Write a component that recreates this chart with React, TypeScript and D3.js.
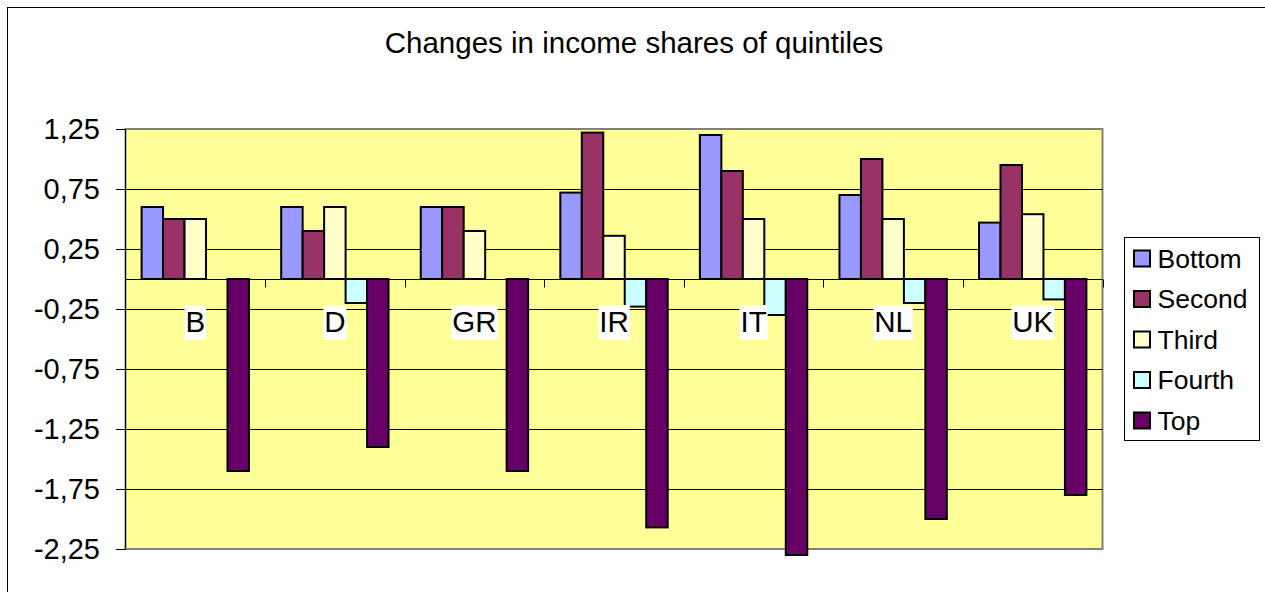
import * as d3 from "d3";
import { useEffect, useRef } from "react";

const countries = ["B", "D", "GR", "IR", "IT", "NL", "UK"];
const quintiles = ["Bottom", "Second", "Third", "Fourth", "Top"];

const bottomShares = [0.6, 0.6, 0.6, 0.72, 1.2, 0.7, 0.47];
const secondShares = [0.5, 0.4, 0.6, 1.22, 0.9, 1.0, 0.95];
const thirdShares = [0.5, 0.6, 0.4, 0.36, 0.5, 0.5, 0.54];
const fourthShares = [0, -0.2, 0, -0.23, -0.3, -0.2, -0.17];
const topShares = [-1.6, -1.4, -1.6, -2.07, -2.3, -2.0, -1.8];

const yTicks = [1.25, 0.75, 0.25, -0.25, -0.75, -1.25, -1.75, -2.25];
const colors = ["#9999ff", "#993366", "#ffffcc", "#ccffff", "#660066"];

const FONT = "'Liberation Sans', Arial, Helvetica, sans-serif";

type Bar = { country: string; quintile: string; value: number; color: string };

export default function App() {
  const svgRef = useRef<SVGSVGElement | null>(null);

  useEffect(() => {
    if (!svgRef.current) return;
    const svg = d3.select(svgRef.current);
    svg.selectAll("*").remove();

    const width = 1265;
    const height = 592;
    const plot = { left: 125.5, right: 1102.5, top: 129, bottom: 549 };

    const series = [bottomShares, secondShares, thirdShares, fourthShares, topShares];
    const bars: Bar[] = [];
    countries.forEach((country, ci) => {
      quintiles.forEach((quintile, qi) => {
        bars.push({ country, quintile, value: series[qi][ci], color: colors[qi] });
      });
    });

    const x = d3.scaleBand<string>().domain(countries).range([plot.left, plot.right]).padding(0);
    const xInner = d3
      .scaleBand<string>()
      .domain(quintiles)
      .range([0, x.bandwidth()])
      .paddingInner(0)
      .paddingOuter(0.75);
    const y = d3.scaleLinear().domain([-2.25, 1.25]).range([plot.bottom, plot.top]);
    const crisp = (v: number) => Math.round(v) + 0.5;

    // chart frame
    svg
      .append("rect")
      .attr("x", 7.5)
      .attr("y", 7.5)
      .attr("width", width + 20)
      .attr("height", height + 20)
      .attr("fill", "#ffffff")
      .attr("stroke", "#000000")
      .attr("stroke-width", 1);

    svg
      .append("text")
      .attr("x", 634)
      .attr("y", 53)
      .attr("text-anchor", "middle")
      .attr("font-family", FONT)
      .attr("font-size", 29.5)
      .attr("fill", "#000")
      .text("Changes in income shares of quintiles");

    // plot area
    svg
      .append("rect")
      .attr("x", plot.left)
      .attr("y", plot.top)
      .attr("width", plot.right - plot.left)
      .attr("height", plot.bottom - plot.top)
      .attr("fill", "#ffff99")
      .attr("stroke", "#808080")
      .attr("stroke-width", 2);

    svg
      .append("g")
      .selectAll("line")
      .data(yTicks.filter((t) => t !== 1.25 && t !== -2.25))
      .join("line")
      .attr("x1", plot.left)
      .attr("x2", plot.right)
      .attr("y1", (t) => crisp(y(t)))
      .attr("y2", (t) => crisp(y(t)))
      .attr("stroke", "#000")
      .attr("stroke-width", 1);

    // y axis
    svg
      .append("line")
      .attr("x1", plot.left)
      .attr("x2", plot.left)
      .attr("y1", plot.top)
      .attr("y2", plot.bottom)
      .attr("stroke", "#000")
      .attr("stroke-width", 1);

    svg
      .append("g")
      .selectAll("line")
      .data(yTicks)
      .join("line")
      .attr("x1", 116)
      .attr("x2", plot.left)
      .attr("y1", (t) => crisp(y(t)))
      .attr("y2", (t) => crisp(y(t)))
      .attr("stroke", "#000")
      .attr("stroke-width", 1);

    svg
      .append("g")
      .selectAll("text")
      .data(yTicks)
      .join("text")
      .attr("x", 100)
      .attr("y", (t) => y(t))
      .attr("dy", "0.36em")
      .attr("text-anchor", "end")
      .attr("font-family", FONT)
      .attr("font-size", 29)
      .attr("fill", "#000")
      .text((t) => d3.format(".2f")(t).replace(".", ",").replace("−", "-"));

    // category axis (zero line + ticks)
    const zeroY = crisp(y(0));
    const boundaries = countries.map((c) => x(c) ?? 0).concat([plot.right]);
    svg
      .append("line")
      .attr("x1", plot.left)
      .attr("x2", plot.right)
      .attr("y1", zeroY)
      .attr("y2", zeroY)
      .attr("stroke", "#000")
      .attr("stroke-width", 1);
    svg
      .append("g")
      .selectAll("line")
      .data(boundaries)
      .join("line")
      .attr("x1", (b) => crisp(b))
      .attr("x2", (b) => crisp(b))
      .attr("y1", zeroY)
      .attr("y2", zeroY + 8)
      .attr("stroke", "#000")
      .attr("stroke-width", 1);

    // bars
    svg
      .append("g")
      .selectAll("rect")
      .data(bars.filter((b) => b.value !== 0))
      .join("rect")
      .attr("x", (b) => (x(b.country) ?? 0) + (xInner(b.quintile) ?? 0))
      .attr("y", (b) => y(Math.max(0, b.value)))
      .attr("width", xInner.bandwidth())
      .attr("height", (b) => Math.abs(y(b.value) - y(0)))
      .attr("fill", (b) => b.color)
      .attr("stroke", "#000")
      .attr("stroke-width", 2);

    // category labels with white backing
    const labels = svg.append("g");
    countries.forEach((c) => {
      const cx = (x(c) ?? 0) + x.bandwidth() / 2;
      const bg = labels.append("rect").attr("fill", "#ffffff");
      const t = labels
        .append("text")
        .attr("x", cx)
        .attr("y", 332)
        .attr("text-anchor", "middle")
        .attr("font-family", FONT)
        .attr("font-size", 29.5)
        .attr("fill", "#000")
        .text(c);
      const box = (t.node() as SVGTextElement).getBBox();
      bg.attr("x", box.x - 1)
        .attr("y", 305)
        .attr("width", box.width + 2)
        .attr("height", 35);
    });

    // legend
    const legend = svg.append("g");
    legend
      .append("rect")
      .attr("x", 1124.5)
      .attr("y", 237.5)
      .attr("width", 135)
      .attr("height", 203)
      .attr("fill", "#ffffff")
      .attr("stroke", "#000")
      .attr("stroke-width", 1);

    const rows = legend
      .selectAll("g")
      .data(quintiles)
      .join("g")
      .attr("transform", (_, i) => `translate(0, ${267.5 + i * 40.5})`);

    rows
      .append("rect")
      .attr("x", 1134)
      .attr("y", -17)
      .attr("width", 16)
      .attr("height", 16)
      .attr("fill", (_, i) => colors[i])
      .attr("stroke", "#000")
      .attr("stroke-width", 2);

    rows
      .append("text")
      .attr("x", 1157.5)
      .attr("y", 0)
      .attr("font-family", FONT)
      .attr("font-size", 26.5)
      .attr("fill", "#000")
      .text((q) => q);
  }, []);

  return (
    <svg
      ref={svgRef}
      width={1265}
      height={592}
      style={{ position: "absolute", left: 0, top: 0, display: "block" }}
    />
  );
}
